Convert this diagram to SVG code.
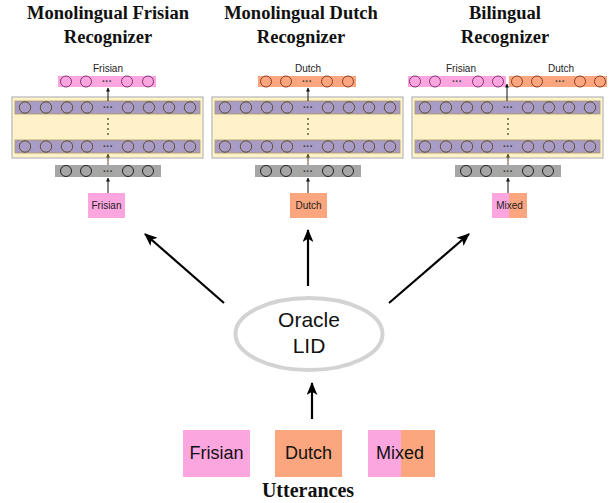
<svg xmlns="http://www.w3.org/2000/svg" xmlns:xlink="http://www.w3.org/1999/xlink" width="610" height="503" viewBox="0 0 610 503">
<style>
.title{font-family:"Liberation Serif",serif;font-weight:bold;font-size:18.5px;fill:#111;text-anchor:middle}
.small{font-family:"Liberation Sans",sans-serif;font-size:10px;fill:#222;text-anchor:middle}
.big{font-family:"Liberation Sans",sans-serif;font-size:18px;fill:#111;text-anchor:middle}
.oracle{font-family:"Liberation Sans",sans-serif;font-size:21px;fill:#111;text-anchor:middle}
.dots{font-family:"Liberation Sans",sans-serif;font-size:10px;font-weight:bold;fill:#3a3a3a;text-anchor:middle}
.pink{fill:#fca6e0}
.orange{fill:#fba67e}
.ycir{fill:none;stroke:#5c4b2c;stroke-width:1}
.pcir{fill:none;stroke:#80306e;stroke-width:1}
.ocir{fill:none;stroke:#8a3a20;stroke-width:1}
.gcir{fill:none;stroke:#222;stroke-width:1}
.thin{stroke:#111;stroke-width:1;fill:none}
.brown{stroke:#5c4b2c;stroke-width:1;fill:none}
.bigarrow{stroke:#000;stroke-width:2.2;fill:none}
</style>
<defs>
<marker id="ah" viewBox="0 0 10 10" refX="9" refY="5" markerWidth="4" markerHeight="5" orient="auto" markerUnits="userSpaceOnUse">
<path d="M0,0 L10,5 L0,10 Z" fill="#111"/>
</marker>
<marker id="ahb" viewBox="0 0 10 10" refX="9" refY="5" markerWidth="4" markerHeight="5" orient="auto" markerUnits="userSpaceOnUse">
<path d="M0,0 L10,5 L0,10 Z" fill="#5c4b2c"/>
</marker>
<marker id="big" viewBox="0 0 12 10" refX="11" refY="5" markerWidth="13" markerHeight="11" orient="auto" markerUnits="userSpaceOnUse">
<path d="M0,0 L12,5 L0,10 L3,5 Z" fill="#000"/>
</marker>
<g id="hidden">
<rect x="12" y="97" width="191" height="61" fill="#fff2c8" stroke="#c4c4c4" stroke-width="1.5"/>
<rect x="15" y="101" width="185" height="13" fill="#a89bc6" stroke="#a89a60" stroke-width="0.8"/>
<rect x="15" y="140" width="185" height="13" fill="#a89bc6" stroke="#a89a60" stroke-width="0.8"/>
<g class="ycir">
<circle cx="25" cy="107.5" r="5.7"/><circle cx="46" cy="107.5" r="5.7"/><circle cx="67" cy="107.5" r="5.7"/><circle cx="87" cy="107.5" r="5.7"/>
<circle cx="128" cy="107.5" r="5.7"/><circle cx="149" cy="107.5" r="5.7"/><circle cx="169" cy="107.5" r="5.7"/><circle cx="190" cy="107.5" r="5.7"/>
<circle cx="25" cy="146.5" r="5.7"/><circle cx="46" cy="146.5" r="5.7"/><circle cx="67" cy="146.5" r="5.7"/><circle cx="87" cy="146.5" r="5.7"/>
<circle cx="128" cy="146.5" r="5.7"/><circle cx="149" cy="146.5" r="5.7"/><circle cx="169" cy="146.5" r="5.7"/><circle cx="190" cy="146.5" r="5.7"/>
</g>
<text class="dots" x="108" y="111">···</text>
<text class="dots" x="108" y="150">···</text>
<g fill="#5c4b2c">
<circle cx="108" cy="119" r="0.9"/><circle cx="108" cy="124" r="0.9"/><circle cx="108" cy="129" r="0.9"/><circle cx="108" cy="134" r="0.9"/>
</g>
<rect x="55" y="165" width="106" height="12" fill="#a6a6a6"/>
<g class="gcir">
<circle cx="66" cy="171" r="5.5"/><circle cx="86" cy="171" r="5.5"/><circle cx="128" cy="171" r="5.5"/><circle cx="148" cy="171" r="5.5"/>
</g>
<text class="dots" x="108" y="174.5">···</text>
</g>
<g id="outbar">
<circle cx="66" cy="81.5" r="5.5"/><circle cx="86" cy="81.5" r="5.5"/><circle cx="127" cy="81.5" r="5.5"/><circle cx="148" cy="81.5" r="5.5"/>
</g>
</defs>

<g id="frisian-recognizer">
<text class="title" x="108" y="19">Monolingual Frisian</text>
<text class="title" x="108" y="43">Recognizer</text>
<text class="small" x="108" y="72">Frisian</text>
<rect class="pink" x="58" y="76" width="98" height="11"/>
<use xlink:href="#outbar" class="pcir"/>
<text class="dots" x="107" y="85">···</text>
<use xlink:href="#hidden"/>
<rect class="pink" x="88" y="193" width="37" height="25"/>
<text class="small" x="106.5" y="209">Frisian</text>
</g>

<g id="dutch-recognizer">
<text class="title" x="301" y="19">Monolingual Dutch</text>
<text class="title" x="301" y="43">Recognizer</text>
<text class="small" x="308" y="72">Dutch</text>
<rect class="orange" x="258" y="76" width="98" height="11"/>
<use xlink:href="#outbar" class="ocir" transform="translate(200,0)"/>
<text class="dots" x="307" y="85">···</text>
<use xlink:href="#hidden" transform="translate(200,0)"/>
<rect class="orange" x="290" y="193" width="37" height="25"/>
<text class="small" x="308.5" y="209">Dutch</text>
</g>

<g id="bilingual-recognizer">
<text class="title" x="505" y="19">Bilingual</text>
<text class="title" x="505" y="43">Recognizer</text>
<text class="small" x="461" y="72">Frisian</text>
<text class="small" x="561" y="72">Dutch</text>
<rect class="pink" x="408" y="76" width="98" height="11"/>
<rect class="orange" x="509" y="76" width="98" height="11"/>
<g class="pcir">
<circle cx="415" cy="81.5" r="5.5"/><circle cx="435" cy="81.5" r="5.5"/><circle cx="478" cy="81.5" r="5.5"/><circle cx="498" cy="81.5" r="5.5"/>
</g>
<g class="ocir">
<circle cx="517" cy="81.5" r="5.5"/><circle cx="537" cy="81.5" r="5.5"/><circle cx="580" cy="81.5" r="5.5"/><circle cx="600" cy="81.5" r="5.5"/>
</g>
<text class="dots" x="457" y="85">···</text>
<text class="dots" x="560" y="85">···</text>
<use xlink:href="#hidden" transform="translate(400,0)"/>
<rect class="pink" x="492" y="193" width="17" height="25"/>
<rect class="orange" x="509" y="193" width="18" height="25"/>
<text class="small" x="509.5" y="209">Mixed</text>
</g>

<g id="oracle-lid">
<ellipse cx="309" cy="334" rx="73.5" ry="36" fill="#fff" stroke="#d3d3d3" stroke-width="4"/>
<text class="oracle" x="309" y="327">Oracle</text>
<text class="oracle" x="309" y="353">LID</text>
</g>

<g id="utterances">
<rect class="pink" x="183" y="430" width="67" height="47"/>
<text class="big" x="216.5" y="459">Frisian</text>
<rect class="orange" x="275" y="430" width="67" height="47"/>
<text class="big" x="308.5" y="459">Dutch</text>
<rect class="pink" x="368" y="430" width="33" height="47"/>
<rect class="orange" x="401" y="430" width="34" height="47"/>
<text class="big" x="400" y="459">Mixed</text>
<text class="title" style="font-size:20px" x="308" y="497">Utterances</text>
</g>

<g id="connectors">
<line class="thin" x1="108" y1="193" x2="108" y2="178" marker-end="url(#ah)"/>
<line class="brown" x1="108" y1="165" x2="108" y2="154" marker-end="url(#ahb)"/>
<line class="thin" x1="108" y1="101" x2="108" y2="88" marker-end="url(#ah)"/>
<line class="thin" x1="308" y1="193" x2="308" y2="178" marker-end="url(#ah)"/>
<line class="brown" x1="308" y1="165" x2="308" y2="154" marker-end="url(#ahb)"/>
<line class="thin" x1="308" y1="101" x2="308" y2="88" marker-end="url(#ah)"/>
<line class="thin" x1="508" y1="193" x2="508" y2="178" marker-end="url(#ah)"/>
<line class="brown" x1="508" y1="165" x2="508" y2="154" marker-end="url(#ahb)"/>
<line class="thin" x1="507" y1="101" x2="507" y2="84" marker-end="url(#ah)"/>
<line class="bigarrow" x1="224" y1="303" x2="145" y2="234" marker-end="url(#big)"/>
<line class="bigarrow" x1="308" y1="286" x2="308" y2="230" marker-end="url(#big)"/>
<line class="bigarrow" x1="389" y1="303" x2="469" y2="234" marker-end="url(#big)"/>
<line class="bigarrow" x1="312" y1="419" x2="312" y2="383" marker-end="url(#big)"/>
</g>
</svg>
